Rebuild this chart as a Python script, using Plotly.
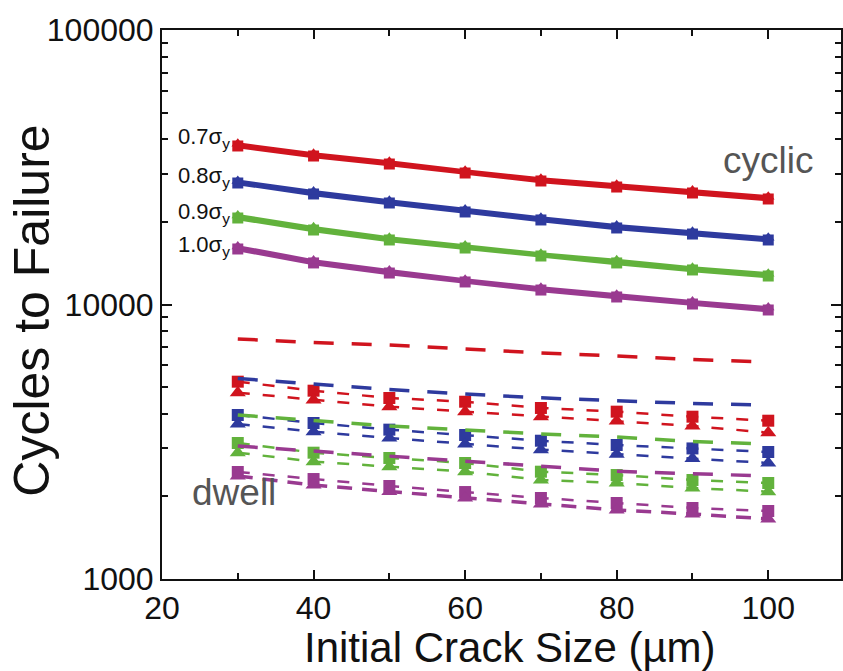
import plotly.graph_objects as go

# Initial crack size (µm)
crack = [30, 40, 50, 60, 70, 80, 90, 100]

# Cyclic loading: cycles to failure (square and triangle model variants)
cyc_sq_07 = [37800, 34750, 32490, 30130, 28180, 26790, 25480, 24230]
cyc_sq_08 = [27710, 25270, 23430, 21730, 20320, 19000, 18060, 17180]
cyc_sq_09 = [20660, 18680, 17180, 16060, 15020, 14170, 13360, 12700]
cyc_sq_10 = [15930, 14170, 13020, 12080, 11290, 10650, 10040, 9550]

cyc_tri_07 = [38500, 35400, 33100, 30700, 28700, 27300, 26000, 24700]
cyc_tri_08 = [28200, 25800, 23900, 22200, 20700, 19400, 18400, 17500]
cyc_tri_09 = [21100, 19100, 17500, 16400, 15300, 14500, 13600, 12950]
cyc_tri_10 = [16250, 14450, 13300, 12300, 11500, 10850, 10250, 9750]

# Dwell loading: long-dash curves
dw_long_07 = [7485, 7270, 7120, 6885, 6660, 6495, 6305, 6173]
dw_long_08 = [5375, 5130, 4900, 4720, 4570, 4460, 4360, 4300]
dw_long_09 = [3958, 3780, 3609, 3490, 3376, 3290, 3169, 3103]
dw_long_10 = [3050, 2925, 2800, 2690, 2570, 2470, 2418, 2373]

# Dwell loading: square-marker curves
dw_sq_07 = [5234, 4853, 4564, 4424, 4198, 4070, 3902, 3773]
dw_sq_08 = [3958, 3701, 3500, 3346, 3190, 3077, 2990, 2902]
dw_sq_09 = [3129, 2885, 2760, 2646, 2460, 2392, 2295, 2237]
dw_sq_10 = [2454, 2313, 2182, 2074, 1973, 1892, 1814, 1769]

# Dwell loading: triangle-marker curves
dw_tri_07 = [4771, 4488, 4243, 4070, 3902, 3763, 3609, 3412]
dw_tri_08 = [3670, 3441, 3264, 3103, 2960, 2850, 2750, 2646]
dw_tri_09 = [2885, 2676, 2566, 2460, 2295, 2237, 2146, 2080]
dw_tri_10 = [2373, 2200, 2083, 1973, 1876, 1784, 1725, 1654]

stress_labels = ["0.7σ<sub>y</sub>", "0.8σ<sub>y</sub>", "0.9σ<sub>y</sub>", "1.0σ<sub>y</sub>"]
colors = ["#D0141E", "#2E3A9E", "#62B23C", "#993A90"]

x_ticks = [20, 40, 60, 80, 100]
y_ticks = [1000, 10000, 100000]
y_minor = [v * m for v in (1000, 10000) for m in range(2, 10)]

cyc_sq = [cyc_sq_07, cyc_sq_08, cyc_sq_09, cyc_sq_10]
cyc_tri = [cyc_tri_07, cyc_tri_08, cyc_tri_09, cyc_tri_10]
dw_long = [dw_long_07, dw_long_08, dw_long_09, dw_long_10]
dw_sq = [dw_sq_07, dw_sq_08, dw_sq_09, dw_sq_10]
dw_tri = [dw_tri_07, dw_tri_08, dw_tri_09, dw_tri_10]

FONT = "Liberation Sans, Arial, sans-serif"

fig = go.Figure()

for i, c in enumerate(colors):
    # dwell, long dashes, no markers
    fig.add_trace(go.Scatter(
        x=crack, y=dw_long[i], mode="lines",
        line=dict(color=c, width=3.5, dash="20px,18px"), showlegend=False))
    # dwell, square markers
    fig.add_trace(go.Scatter(
        x=crack, y=dw_sq[i], mode="lines+markers",
        line=dict(color=c, width=2.5, dash="12px,13px"),
        marker=dict(symbol="square", size=12, color=c), showlegend=False))
    # dwell, triangle markers
    tri_dash = "15px,10px" if i == 3 else "12px,13px"
    tri_w = 3.5 if i == 3 else 2.5
    fig.add_trace(go.Scatter(
        x=crack, y=dw_tri[i], mode="lines+markers",
        line=dict(color=c, width=tri_w, dash=tri_dash),
        marker=dict(symbol="triangle-up", size=14, color=c), showlegend=False))

for i, c in enumerate(colors):
    # cyclic, solid lines
    fig.add_trace(go.Scatter(
        x=crack, y=cyc_sq[i], mode="lines+markers",
        line=dict(color=c, width=4.5),
        marker=dict(symbol="square", size=11, color=c), showlegend=False))
    fig.add_trace(go.Scatter(
        x=crack, y=cyc_tri[i], mode="lines+markers",
        line=dict(color=c, width=3),
        marker=dict(symbol="triangle-up", size=11, color=c), showlegend=False))

# stress level labels at the start of each cyclic curve
label_y = [0.804, 0.733, 0.667, 0.606]
for lab, yy in zip(stress_labels, label_y):
    fig.add_annotation(text=lab, xref="paper", yref="paper", x=0.103, y=yy,
                       xanchor="right", yanchor="middle", showarrow=False,
                       font=dict(family=FONT, size=22, color="#111"))

fig.add_annotation(text="cyclic", xref="paper", yref="paper", x=0.962, y=0.763,
                   xanchor="right", yanchor="middle", showarrow=False,
                   font=dict(family=FONT, size=37, color="#555"))
fig.add_annotation(text="dwell", xref="paper", yref="paper", x=0.041, y=0.157,
                   xanchor="left", yanchor="middle", showarrow=False,
                   font=dict(family=FONT, size=37, color="#555"))

# axis titles
fig.add_annotation(text="Initial Crack Size (µm)", xref="paper", yref="paper",
                   x=0.5125, y=-0.124, xanchor="center", yanchor="middle", showarrow=False,
                   font=dict(family=FONT, size=42, color="#111"))
fig.add_annotation(text="Cycles to Failure", xref="paper", yref="paper",
                   x=-0.192, y=0.488, xanchor="center", yanchor="middle", showarrow=False,
                   textangle=-90,
                   font=dict(family=FONT, size=50, color="#111"))

axis_font = dict(family=FONT, size=32, color="#111")

fig.update_xaxes(
    range=[20, 109.6], tickmode="array", tickvals=x_ticks,
    ticktext=[str(v) for v in x_ticks],
    ticks="inside", ticklen=9, tickwidth=2, tickcolor="#111",
    showline=True, linecolor="#111", linewidth=2, mirror="ticks",
    showgrid=False, zeroline=False, tickfont=axis_font,
    minor=dict(ticks="inside", ticklen=6, tickwidth=2, tickcolor="#111",
               tickmode="array", tickvals=[30, 50, 70, 90], showgrid=False),
)
fig.update_yaxes(
    type="log", range=[3, 5], tickmode="array", tickvals=y_ticks,
    ticktext=[str(v) for v in y_ticks],
    ticks="inside", ticklen=10, tickwidth=2, tickcolor="#111",
    showline=True, linecolor="#111", linewidth=2, mirror="ticks",
    showgrid=False, zeroline=False, tickfont=axis_font,
    minor=dict(ticks="inside", ticklen=6, tickwidth=2, tickcolor="#111",
               tickmode="array", tickvals=y_minor, showgrid=False),
)

fig.update_layout(
    width=843, height=671,
    margin=dict(l=162, r=0, t=30, b=92),
    paper_bgcolor="white", plot_bgcolor="white",
    showlegend=False,
)

fig.write_html("out.html")
